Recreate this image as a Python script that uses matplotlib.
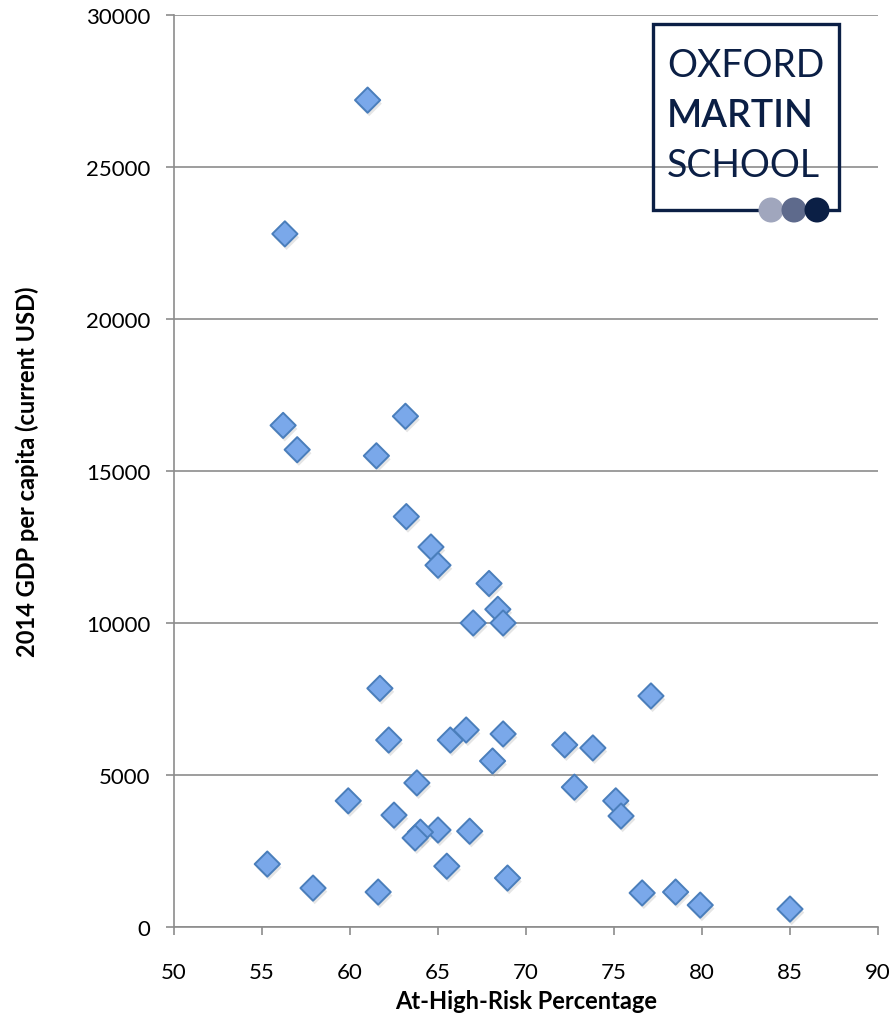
import matplotlib
matplotlib.use("Agg")
import matplotlib.pyplot as plt
import matplotlib.patheffects as pe
from matplotlib.patches import Rectangle, Circle

# -------------------------
# Data
# -------------------------
risk_pct = [61.0, 56.3, 56.2, 57.0, 63.15, 61.5, 63.2, 64.6, 65.0, 67.9,
            68.4, 67.0, 68.7, 61.7, 77.1, 62.2, 66.6, 65.7, 68.7, 72.2,
            73.8, 68.1, 63.8, 72.75, 59.9, 75.1, 75.4, 62.5, 65.0, 64.0,
            63.7, 66.8, 65.5, 55.3, 68.95, 57.9, 61.6, 76.6, 78.5, 79.9,
            85.0]
gdp_pc = [27200, 22800, 16500, 15700, 16800, 15500, 13500, 12500, 11900, 11300,
          10450, 10000, 10000, 7850, 7600, 6150, 6480, 6150, 6350, 5990,
          5890, 5460, 4740, 4600, 4150, 4150, 3650, 3680, 3190, 3120,
          2930, 3150, 2000, 2070, 1610, 1280, 1150, 1120, 1150, 720,
          590]

x_ticks = [50, 55, 60, 65, 70, 75, 80, 85, 90]
y_ticks = [0, 5000, 10000, 15000, 20000, 25000, 30000]

W, H = 895, 1020
FONT = "Lato"
NAVY = "#0b1f45"

fig = plt.figure(figsize=(W / 100, H / 100), dpi=100)
ax = fig.add_axes([174 / W, (H - 928) / H, (878 - 174) / W, (928 - 16) / H])

ax.scatter(risk_pct, gdp_pc, marker="D", s=165, facecolor="#7aa8ea",
           edgecolor="#4a7ebb", linewidth=1.4, zorder=3,
           path_effects=[pe.SimplePatchShadow(offset=(1.2, -2.5),
                                              shadow_rgbFace="#aaaaaa", alpha=0.3),
                         pe.Normal()])

ax.set_xlim(50, 90)
ax.set_ylim(0, 30000)
ax.set_xticks(x_ticks)
ax.set_yticks(y_ticks)
ax.yaxis.grid(True, color="#8c8c8c", linewidth=1.2)
ax.set_axisbelow(True)
for side in ("top", "right"):
    ax.spines[side].set_visible(False)
for side in ("left", "bottom"):
    ax.spines[side].set_color("#8c8c8c")
    ax.spines[side].set_linewidth(1.2)
ax.tick_params(direction="out", length=6, width=1.2, color="#8c8c8c",
               labelsize=16)
ax.tick_params(axis="y", pad=11)
ax.tick_params(axis="x", pad=19)
for lab in ax.get_xticklabels() + ax.get_yticklabels():
    lab.set_fontfamily(FONT)

ax.set_xlabel("At-High-Risk Percentage", fontfamily=FONT, fontweight="bold",
              fontsize=17, labelpad=5)
ax.set_ylabel("2014 GDP per capita (current USD)", fontfamily=FONT,
              fontweight="bold", fontsize=17, labelpad=34)

# -------------------------
# Oxford Martin School logo (pixel coordinates overlay)
# -------------------------
ov = fig.add_axes([0, 0, 1, 1], facecolor="none")
ov.set_xlim(0, W)
ov.set_ylim(H, 0)
ov.axis("off")
ov.add_patch(Rectangle((653, 25), 186, 186, fill=False, edgecolor=NAVY, linewidth=2.4))
for cx, col in [(771, "#a0a6bd"), (794, "#5e6a8c"), (817, NAVY)]:
    ov.add_patch(Circle((cx, 211), 12.5, facecolor=col, edgecolor="none", zorder=5))
ov.text(667, 77, "OXFORD", fontfamily=FONT, fontweight="normal", fontsize=27,
        color=NAVY, va="baseline")
ov.text(667, 127, "MARTIN", fontfamily=FONT, fontweight="semibold", fontsize=27,
        color=NAVY, va="baseline")
ov.text(667, 177, "SCHOOL", fontfamily=FONT, fontweight="normal", fontsize=27,
        color=NAVY, va="baseline")

fig.savefig("out.png", dpi=100)
